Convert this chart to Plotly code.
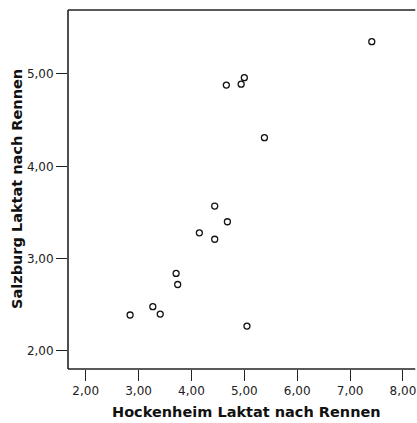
import plotly.graph_objects as go

hockenheim = [7.41, 4.66, 4.94, 5.00, 5.38, 4.44, 4.68, 4.15, 4.44, 3.71, 3.74, 3.27, 3.41, 2.84, 5.05]
salzburg = [5.35, 4.88, 4.89, 4.96, 4.31, 3.57, 3.40, 3.28, 3.21, 2.84, 2.72, 2.48, 2.40, 2.39, 2.27]
x_ticks = [2, 3, 4, 5, 6, 7, 8]
y_ticks = [2, 3, 4, 5]
x_title = "Hockenheim Laktat nach Rennen"
y_title = "Salzburg Laktat nach Rennen"

W, H = 417, 423
ml, mt, mb, mr = 68, 10, 54, 0
pw = W - ml - mr

fig = go.Figure(go.Scatter(
    x=hockenheim, y=salzburg, mode="markers",
    marker=dict(symbol="circle-open", size=6, color="#111",
                line=dict(width=1.3, color="#111")),
    hoverinfo="x+y",
))

axis_common = dict(
    showgrid=False, zeroline=False, ticks="outside", ticklen=11,
    tickwidth=1.2, tickcolor="#222", tickformat=".2f",
    tickfont=dict(family="DejaVu Sans", size=12, color="#222"),
)

fig.update_layout(
    width=W, height=H,
    margin=dict(l=ml, r=mr, t=mt, b=mb, pad=0),
    paper_bgcolor="white", plot_bgcolor="white",
    separators=",.",
    showlegend=False,
    xaxis=dict(range=[1.666, 8.265], tickvals=x_ticks, showline=False, **axis_common),
    yaxis=dict(range=[1.805, 5.693], tickvals=y_ticks, showline=False, **axis_common),
    shapes=[
        dict(type="line", xref="paper", yref="paper", x0=0, x1=0.995, y0=1, y1=1,
             line=dict(color="#222", width=1.6)),
        dict(type="line", xref="paper", yref="paper", x0=0, x1=0.995, y0=0, y1=0,
             line=dict(color="#222", width=1.6)),
        dict(type="line", xref="paper", yref="paper", x0=0, x1=0, y0=0, y1=1,
             line=dict(color="#222", width=1.6)),
    ],
    annotations=[
        dict(text=x_title, xref="paper", yref="paper",
             x=(246.2 - ml) / pw, y=-(412 - (H - mb)) / (H - mt - mb),
             xanchor="center", yanchor="middle", showarrow=False,
             font=dict(family="DejaVu Sans", size=14.5, color="#111", weight="bold")),
        dict(text=y_title, xref="paper", yref="paper",
             x=(16.5 - ml) / pw, y=0.5, textangle=-90,
             xanchor="center", yanchor="middle", showarrow=False,
             font=dict(family="DejaVu Sans", size=14.5, color="#111", weight="bold")),
    ],
)

fig.write_html("out.html")
